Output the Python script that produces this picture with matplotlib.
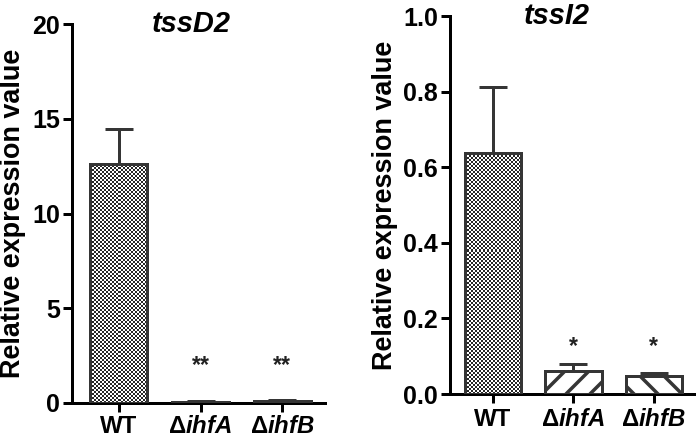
import matplotlib
matplotlib.use("Agg")
import matplotlib.pyplot as plt
import numpy as np
from matplotlib.colors import ListedColormap

plt.rcParams['font.family'] = ['Liberation Sans', 'DejaVu Sans']
plt.rcParams['font.weight'] = 'bold'
plt.rcParams['axes.labelweight'] = 'bold'
plt.rcParams['mathtext.fontset'] = 'custom'
plt.rcParams['mathtext.rm'] = 'Liberation Sans:bold'
plt.rcParams['mathtext.it'] = 'Liberation Sans:bold:italic'
plt.rcParams['hatch.linewidth'] = 3.5

# data
categories = ['WT', r'$\Delta\mathit{ihfA}$', r'$\Delta\mathit{ihfB}$']
tssd2_mean = [12.6, 0.05, 0.10]
tssd2_err = [1.85, 0.03, 0.04]
tssd2_sig = ['', '**', '**']
tssi2_mean = [0.638, 0.061, 0.048]
tssi2_err = [0.175, 0.018, 0.007]
tssi2_sig = ['', '*', '*']

edge = '#353535'
fig = plt.figure(figsize=(696 / 72, 440 / 72), dpi=72)


def checker_fill(ax, patch, cell=2):
    nx = int(round(ax.bbox.width / cell))
    ny = int(round(ax.bbox.height / cell))
    img = np.indices((ny, nx)).sum(axis=0) % 2
    im = ax.imshow(img, cmap=ListedColormap(['white', '#262626']),
                   extent=(0, 1, 0, 1), transform=ax.transAxes,
                   interpolation='nearest', aspect='auto', zorder=2)
    im.set_clip_path(patch)


def panel(rect, means, errs, sigs, title, ymax, yticks, fmt, xlim, sig_y,
          title_x, label_x, xpad):
    ax = fig.add_axes(rect)
    x = np.arange(len(means))
    ax.errorbar(x, means, yerr=[np.zeros(len(errs)), errs], fmt='none',
                ecolor=edge, elinewidth=3, capsize=14, capthick=3, zorder=1)
    bars = ax.bar(x, means, width=0.7, facecolor='none', edgecolor=edge,
                  linewidth=3, zorder=3)
    ax.bar(x, means, width=0.7, facecolor='white', edgecolor='none', zorder=1.5)
    checker_fill(ax, bars[0])
    bars[1].set_hatch('/')
    bars[2].set_hatch('\\')
    for xi, s in zip(x, sigs):
        if s:
            ax.text(xi, sig_y, s, ha='center', va='center', fontsize=23,
                    color='#222222')
    ax.set_xlim(*xlim)
    ax.set_ylim(0, ymax)
    ax.set_yticks(yticks)
    ax.set_yticklabels([fmt.format(v) for v in yticks])
    ax.set_xticks(x)
    ax.set_xticklabels(categories)
    for side in ['top', 'right']:
        ax.spines[side].set_visible(False)
    for side in ['left', 'bottom']:
        ax.spines[side].set_linewidth(3)
        ax.spines[side].set_color('black')
    ax.tick_params(direction='out', length=9, width=3, labelsize=25, pad=3,
                   colors='black')
    ax.tick_params(axis='x', pad=xpad, labelsize=24)
    ax.set_ylabel('Relative expression value', fontsize=27)
    ax.yaxis.set_label_coords(label_x, 0.5)
    ax.text(title_x, 1.0, title, transform=ax.transAxes, ha='center',
            va='center', fontsize=29, fontstyle='italic', fontweight='bold')
    return ax


panel([72 / 696, 37 / 440, 253 / 696, 379 / 440], tssd2_mean, tssd2_err,
      tssd2_sig, 'tssD2', 20, [0, 5, 10, 15, 20], '{:.0f}', (-0.57, 2.52),
      2.0, 0.47, -0.182, 3)
panel([450 / 696, 46 / 440, 245 / 696, 378 / 440], tssi2_mean, tssi2_err,
      tssi2_sig, 'tssI2', 1.0, [0, 0.2, 0.4, 0.6, 0.8, 1.0], '{:.1f}',
      (-0.53, 2.51), 0.125, 0.437, -0.212, 5)

fig.savefig('out.png', dpi=72)
